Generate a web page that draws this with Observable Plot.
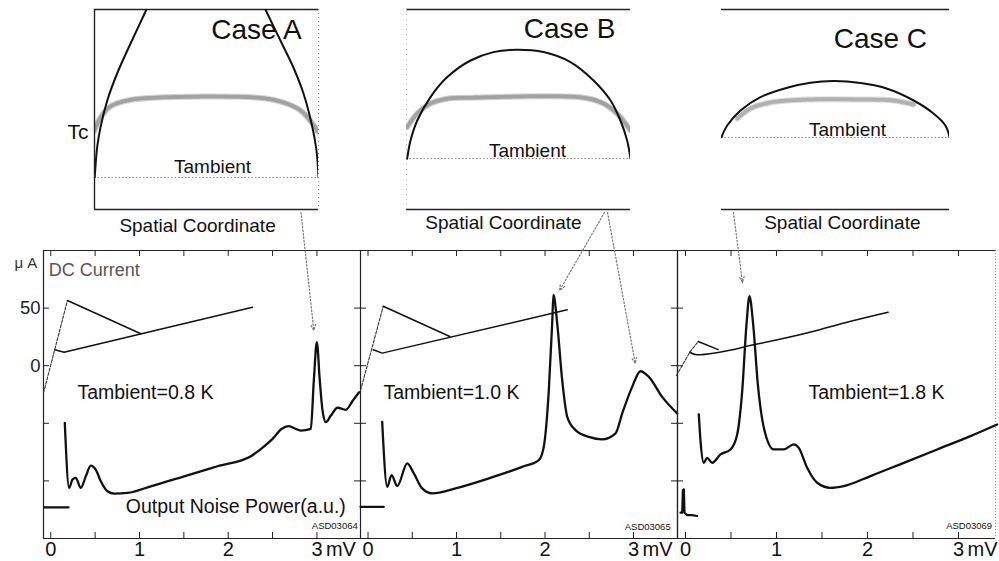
<!DOCTYPE html>
<html>
<head>
<meta charset="utf-8">
<script src="https://cdn.jsdelivr.net/npm/d3@7"></script>
<script src="https://cdn.jsdelivr.net/npm/@observablehq/plot@0.6"></script>
<style>
  body { margin: 0; background: #fff; }
  #root { position: relative; width: 999px; height: 561px; overflow: hidden; background: #fff; }
  .p { position: absolute; }
  .p svg { overflow: visible; display: block; }
</style>
</head>
<body>
<div id="root"></div>
<script>
// ---------------- Inset data: temperature profile vs spatial coordinate (a.u.) ----------------
const insetNames = ["Case A", "Case B", "Case C"];
const tAmbientLevels = [16, 25.5, 36];
const caseAProfileLeft  = [[0.1,16.2],[1.2,31.2],[2.7,41.2],[5.7,54.5],[10.1,68],[16.1,83],[23.2,100]];
const caseAProfileRight = [[76.3,100],[83,84.5],[88.8,71],[93.3,58],[97.3,41],[99.1,29.5],[100,16]];
const caseATcBand = [[0,39.5],[2.7,46],[7.1,51.5],[14.7,54.5],[25,55.8],[74.1,55.8],[84.4,53.5],[92,49.5],[97.3,43],[100,38.5]];
const caseBProfile = [[0.3,25.4],[1.8,34.5],[4.8,44.5],[10.7,56.2],[18.2,66.2],[28.6,74.5],[38.8,78.7],[49.4,79.9],[61.2,78.7],[73.2,73.7],[83.5,64.5],[91.1,54.5],[95.5,44.5],[98.5,34.5],[100,25.4]];
const caseBTcBand = [[0.3,41.2],[4.8,48],[10.7,53],[18.2,55.4],[28.6,55.9],[79,55.9],[87.9,53],[94,48],[100,39.5]];
const caseCProfile = [[0,36.2],[2.5,42],[8.3,49.5],[17.1,56.2],[28.8,60.9],[39,63.4],[49.3,64.2],[61,63.2],[72.7,60.4],[84.3,54.5],[93.1,47.9],[98.2,42],[100,36.2]];
const caseCTcBand = [[6.9,45.5],[12.7,50.5],[21.5,53.5],[39,55],[61,55],[75.4,54.5],[84.2,52.5]];

// ---------------- Bottom panels: DC current (µA) and output noise (a.u.) vs bias (mV) ----------------
const panelLabels = ["Tambient=0.8 K", "Tambient=1.0 K", "Tambient=1.8 K"];
const panelIds = ["ASD03064", "ASD03065", "ASD03069"];
const voltTicks = [0, 0.5, 1, 1.5, 2, 2.5, 3];
const voltLabels = [0, 1, 2, 3];
const currentTicks = [-100, -50, 0, 50];
const currentLabels = [0, 50];

// IV curves: [mV, µA]
const iv1Rise  = [[-0.082,-23.6],[0.188,56.6]];
const iv1Upper = [[0.188,56.6],[1.015,27.7]];
const iv1Lower = [[0.045,13.8],[0.15,11.7],[2.274,50.8]];
const iv2Rise  = [[-0.085,-21.5],[0.172,51.6]];
const iv2Upper = [[0.172,51.6],[0.924,25.3]];
const iv2Lower = [[0.059,13.8],[0.16,10.9],[2.251,48.5]];
const iv3Rise  = [[-0.099,-8.5],[0.047,11.7],[0.14,21]];
const iv3Upper = [[0.14,21],[0.359,14]];
const iv3Lower = [[0.047,11.7],[0.121,9.5],[0.8,19],[1.366,29],[1.805,38.3],[2.227,46.4]];

// Output noise power (a.u., drawn on the same vertical axis)
const noise1 = [[0.158,-49.7],[0.207,-106.1],[0.244,-98.9],[0.282,-97.4],[0.338,-106.1],[0.395,-96],[0.451,-86.7],[0.507,-90.2],[0.564,-100.3],[0.639,-109],[0.714,-111],[0.865,-110.4],[1.127,-104.7],[1.503,-96],[1.879,-87.3],[2.255,-78.6],[2.405,-70],[2.5,-63.5],[2.6,-55],[2.68,-52.5],[2.75,-54.5],[2.818,-56.3],[2.931,-54.8],[2.965,-12.8],[2.999,20.4],[3.032,-12.8],[3.063,-38.9],[3.1,-49],[3.157,-43.3],[3.232,-36.5],[3.326,-38.3],[3.405,-30.2],[3.476,-23]];
const noise1Base = [[-0.075,-123],[0.2,-123]];
const noise2 = [[0.16,-48.7],[0.217,-105.1],[0.266,-95],[0.33,-104.5],[0.443,-84.8],[0.518,-93.5],[0.612,-106.5],[0.725,-110.8],[0.989,-106.5],[1.365,-97.8],[1.742,-87.8],[1.93,-82],[1.986,-70.4],[2.043,-21.2],[2.081,36.6],[2.095,61.5],[2.138,36.6],[2.194,-12.6],[2.251,-44.4],[2.345,-55.9],[2.495,-61.8],[2.646,-64],[2.797,-58.8],[2.872,-41.5],[2.985,-18.4],[3.079,-4.8],[3.173,-9.7],[3.324,-27.1],[3.494,-41.5]];
const noise2Base = [[-0.085,-122.5],[0.179,-122.5]];
const noise3 = [[0.146,-42.3],[0.165,-65.5],[0.201,-84.3],[0.238,-80],[0.293,-84.3],[0.385,-77],[0.495,-72.7],[0.568,-59.7],[0.623,-22.1],[0.67,35.7],[0.703,60.3],[0.744,35.7],[0.795,-16.3],[0.861,-53.9],[0.97,-72.7],[1.08,-72.7],[1.19,-68.3],[1.245,-71.3],[1.337,-88.6],[1.447,-101.6],[1.593,-106],[1.74,-104.5],[2.033,-95.8],[2.399,-84.3],[2.766,-72.7],[3.132,-61.1],[3.425,-51]];
const noise3Base = [[-0.055,-127.6],[-0.036,-127.6],[-0.029,-108],[-0.022,-125],[-0.018,-107.4],[-0.011,-127.6],[0.018,-129.7],[0.073,-129.7],[0.128,-130.5]];

// Pointers from each inset to the matching noise peak (mV, µA-axis units)
const arrows1 = [{x1:2.82, y1:133, x2:2.965, y2:30.6}];
const arrows2 = [{x1:2.672, y1:133, x2:2.164, y2:65.3}, {x1:2.706, y1:133, x2:3.02, y2:1.9}];
const arrows3 = [{x1:0.527, y1:133, x2:0.626, y2:72.2}];

// ---------------- rendering ----------------
const FONT = '"Liberation Sans", Arial, Helvetica, sans-serif';
const X = d => d[0], Y = d => d[1];
const root = document.getElementById("root");
function place(svg, left, top) {
  const div = document.createElement("div");
  div.className = "p";
  div.style.left = left + "px";
  div.style.top = top + "px";
  div.appendChild(svg);
  root.appendChild(div);
}
const style = {background: "transparent", overflow: "visible", fontFamily: FONT, color: "#111"};

function buildInset(c) {
  const marks = [
    Plot.ruleY([0, 100], {stroke: "#222", strokeWidth: 1.4}),
    Plot.ruleY([c.tamb], {stroke: "#8a8a8a", strokeDasharray: "1.5 2", strokeWidth: 1}),
    Plot.line(c.band, {x: X, y: Y, curve: "catmull-rom", stroke: "#d2d2d2", strokeWidth: 6, clip: true, strokeOpacity: c.bandOpacity}),
    Plot.line(c.band, {x: X, y: Y, curve: "catmull-rom", stroke: "#7a7a7a", strokeWidth: 4, strokeDasharray: "1 2", clip: true, strokeOpacity: 0.55 * c.bandOpacity}),
    ...c.profiles.map(p => Plot.line(p, {x: X, y: Y, curve: "catmull-rom", stroke: "#111", strokeWidth: 2, clip: true})),
    Plot.text([c.name], {x: () => c.nameX, y: () => c.nameY, text: d => d, fontSize: 28, fill: "#111"}),
    Plot.text(["Tambient"], {x: () => c.tambX, y: () => c.tambY, text: d => d, fontSize: 19, fill: "#111"}),
    Plot.text(["Spatial Coordinate"], {x: () => c.scX, y: () => c.scY, text: d => d, fontSize: 19, fill: "#111"})
  ];
  if (c.leftLine) marks.push(Plot.ruleX([0], {stroke: "#222", strokeWidth: 1.4}));
  if (c.leftDotted) marks.push(Plot.ruleX([0], {stroke: "#aaa", strokeDasharray: "1 4"}));
  if (c.rightDotted) marks.push(Plot.ruleX([100], {stroke: "#999", strokeDasharray: "1 3"}));
  if (c.tc) marks.push(Plot.text(["Tc"], {x: () => -2.7, y: () => 38.5, text: d => d, fontSize: 21, textAnchor: "end", fill: "#111"}));
  return Plot.plot({
    width: 54 + c.frameW + 12, height: 240,
    marginLeft: 54, marginRight: 12, marginTop: 9, marginBottom: 31,
    x: {domain: [0, 100], axis: null},
    y: {domain: [0, 100], axis: null},
    style, marks
  });
}

place(buildInset({profiles: [caseAProfileLeft, caseAProfileRight], band: caseATcBand, bandOpacity: 1, tamb: tAmbientLevels[0],
  name: insetNames[0], nameX: 72.3, nameY: 89.5, tambX: 52.7, tambY: 21.5, scX: 46, scY: -8,
  frameW: 224, leftLine: true, rightDotted: true, tc: true}), 40, 0);
place(buildInset({profiles: [caseBProfile], band: caseBTcBand, bandOpacity: 1, tamb: tAmbientLevels[1],
  name: insetNames[1], nameX: 72.8, nameY: 90, tambX: 54, tambY: 29.5, scX: 43.3, scY: -6.5,
  frameW: 224, leftDotted: true}), 352, 0);
place(buildInset({profiles: [caseCProfile], band: caseCTcBand, bandOpacity: 0.8, tamb: tAmbientLevels[2],
  name: insetNames[2], nameX: 69.7, nameY: 85, tambX: 55.3, tambY: 40, scX: 53, scY: -6.5,
  frameW: 228}), 667, 0);

function buildPanel(c) {
  const H = 288;
  const [x0, x1] = c.xDomain;
  const marks = [
    Plot.ruleY([-150, 100], {stroke: "#222", strokeWidth: 1.2}),
    Plot.ruleX([x0], {stroke: "#222", strokeWidth: 1.2}),
    Plot.ruleX([x1], c.rightSolid ? {stroke: "#222", strokeWidth: 1.2} : {stroke: "#888", strokeDasharray: "1 2"}),
    Plot.ruleX(voltTicks, {x: d => d, insetTop: H - 6, stroke: "#222"}),
    Plot.ruleX(voltTicks, {x: d => d, insetBottom: H - 6, stroke: "#222"}),
    Plot.ruleY(currentTicks, {y: d => d, insetRight: c.frameW - 6, stroke: "#222"}),
    Plot.axisX(voltLabels, {tickSize: 0, tickPadding: 3, fontSize: 20, tickFormat: d => String(d), fill: "#111", label: null}),
    Plot.text(["mV"], {x: () => 3, frameAnchor: "bottom", dx: 9, dy: 3, lineAnchor: "top", textAnchor: "start", fontSize: 20, fill: "#111"}),
    Plot.line(c.rise, {x: X, y: Y, stroke: "#333", strokeWidth: 1.1, strokeDasharray: "3 1.5"}),
    Plot.line(c.upper, {x: X, y: Y, stroke: "#111", strokeWidth: 1.5}),
    Plot.line(c.lower, {x: X, y: Y, stroke: "#111", strokeWidth: 1.5, curve: c.lowerCurve}),
    Plot.line(c.noise, {x: X, y: Y, stroke: "#111", strokeWidth: 2.3, curve: "monotone-x"}),
    Plot.line(c.base, {x: X, y: Y, stroke: "#111", strokeWidth: 2.2}),
    Plot.arrow(c.arrows, {x1: "x1", y1: "y1", x2: "x2", y2: "y2", stroke: "#777", strokeWidth: 1.2, strokeDasharray: "1.5 2", headLength: 8, headAngle: 45}),
    Plot.text([c.label], {x: () => c.labelX, y: () => -23.5, text: d => d, textAnchor: "start", fontSize: 19.5, fill: "#111"}),
    Plot.text([c.id], {x: () => c.idX, y: () => c.idY, text: d => d, textAnchor: "end", fontSize: 9.5, fill: "#111"})
  ];
  if (c.rightTicks) marks.push(Plot.ruleY(currentTicks, {y: d => d, insetLeft: c.frameW - 6, stroke: "#222"}));
  if (c.first) {
    marks.push(
      Plot.axisY(currentLabels, {tickSize: 0, tickPadding: 3, fontSize: 18.5, fill: "#222", label: null}),
      Plot.text(["μ A"], {x: () => -0.28, y: () => 89, text: d => d, fontSize: 15, fill: "#333"}),
      Plot.text(["DC Current"], {x: () => -0.023, y: () => 82.6, text: d => d, textAnchor: "start", fontSize: 18, fill: "#555"}),
      Plot.text(["Output Noise Power(a.u.)"], {x: () => 0.846, y: () => -122.8, text: d => d, textAnchor: "start", fontSize: 19.5, fill: "#111"})
    );
  }
  return Plot.plot({
    width: c.ml + c.frameW + c.mr, height: 321,
    marginLeft: c.ml, marginRight: c.mr, marginTop: 10, marginBottom: 23,
    x: {domain: c.xDomain},
    y: {domain: [-150, 100], axis: c.first ? undefined : null},
    style, marks
  });
}

place(buildPanel({first: true, ml: 43, mr: 2, frameW: 317, xDomain: [-0.082, 3.491],
  rise: iv1Rise, upper: iv1Upper, lower: iv1Lower, lowerCurve: "linear", noise: noise1, base: noise1Base, arrows: arrows1,
  label: panelLabels[0], labelX: 0.30, id: panelIds[0], idX: 3.46, idY: -138.7, rightTicks: true}), 0, 240);
place(buildPanel({ml: 0, mr: 0, frameW: 317, xDomain: [-0.085, 3.497], rightSolid: true,
  rise: iv2Rise, upper: iv2Upper, lower: iv2Lower, lowerCurve: "linear", noise: noise2, base: noise2Base, arrows: arrows2,
  label: panelLabels[1], labelX: 0.175, id: panelIds[1], idX: 3.42, idY: -140.4, rightTicks: true}), 360, 240);
place(buildPanel({ml: 0, mr: 0, frameW: 318, xDomain: [-0.088, 3.407],
  rise: iv3Rise, upper: iv3Upper, lower: iv3Lower, lowerCurve: "monotone-x", noise: noise3, base: noise3Base, arrows: arrows3,
  label: panelLabels[2], labelX: 1.352, id: panelIds[2], idX: 3.37, idY: -138.7}), 677, 240);
</script>
</body>
</html>
